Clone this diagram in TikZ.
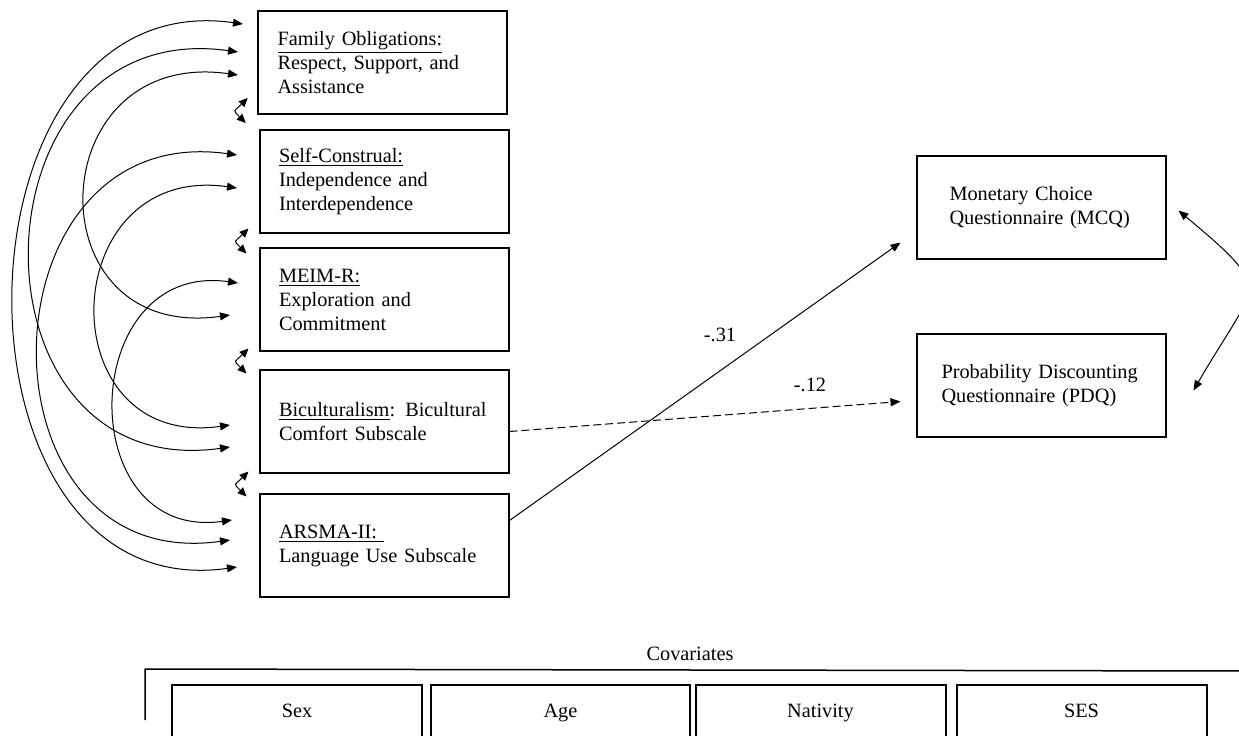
\documentclass[tikz,border=0pt]{standalone}
\usepackage{fontspec}
\setmainfont{Liberation Serif}
\usetikzlibrary{arrows.meta}
\usetikzlibrary{calc}

\begin{document}
\begin{tikzpicture}[x=0.5pt,y=0.5pt]
  \tikzset{measure/.style = {shape=rectangle,draw,line width=1pt,minimum width=124.5pt,minimum height=51.5pt,text width=105pt,inner xsep=9.75pt,align=left,font=\fontsize{10.15}{12}\selectfont}}
  \tikzset{covar/.style = {shape=rectangle,draw,line width=1pt,anchor=north,minimum width=125pt,inner ysep=0pt,text height=16pt,text depth=30pt,font=\fontsize{10.15}{12}\selectfont}}
  \tikzset{corr/.style = {<->,>={Triangle[length=5pt,width=4pt]},line width=0.5pt}}
  \tikzset{twist/.style = {<->,>={Triangle[length=4.5pt,width=4pt]},line width=0.5pt}}
  \tikzset{effect/.style = {->,>={Triangle[length=5pt,width=4pt]},line width=0.5pt}}
  \tikzset{weight/.style = {font=\fontsize{10.15}{12}\selectfont}}

  \useasboundingbox (0,0) rectangle (1239,-735);
  \clip (0,0) rectangle (1239,-735);

	\node[measure] (FO) at (382.5,-62.5) {\underline{Family Obligations:}\\Respect, Support, and\\Assistance};
	\node[measure] (SC) at (384,-181.5) {\underline{Self-Construal:}\\Independence and\\Interdependence};
	\node[measure] (MEIM) at (384,-299.5) {\underline{MEIM-R:}\\Exploration and\\Commitment};
	\node[measure] (BIC) at (384,-421.5) {\underline{Biculturalism}: Bicultural\\Comfort Subscale};
	\node[measure] (ARSMA) at (384,-545.5) {\underline{ARSMA-II:\ }\\Language Use Subscale};

	\node[measure,text width=91.5pt,inner xsep=16.5pt] (MCQ) at (1041,-207.5) {Monetary Choice\\Questionnaire (MCQ)};
	\node[measure,text width=99.5pt,inner xsep=12.5pt] (PDQ) at (1041,-385.5) {Probability Discounting\\Questionnaire (PDQ)};

	\coordinate (fo1) at (243,-24);
	\coordinate (fo2) at (238,-52);
	\coordinate (fo3) at (238,-75);
	\coordinate (sc1) at (237,-155);
	\coordinate (sc2) at (237,-188);
	\coordinate (me1) at (238,-283);
	\coordinate (me2) at (230,-315);
	\coordinate (bi1) at (230,-425);
	\coordinate (bi2) at (230,-447);
	\coordinate (ar1) at (232,-520);
	\coordinate (ar2) at (230,-540);
	\coordinate (ar3) at (237,-567);

	\foreach \from/\to/\l in {fo1/ar3/1.43, fo2/bi2/1.77, fo3/me2/2.13, sc1/ar2/1.74, sc2/bi1/1.99, me1/ar1/1.75}
	\draw[corr] (\from) to[out=172,in=188,looseness=\l] (\to);

	\foreach \up/\dn/\s in {FO/SC/12, SC/MEIM/0, MEIM/BIC/0, BIC/ARSMA/0}
	\draw[twist] ($(\up.south west)!0.5!(\dn.north west)+(-10,12+\s)$) to[out=225,in=135,looseness=2] ($(\up.south west)!0.5!(\dn.north west)+(-12,-13+\s)$);

	\draw[effect] ($(ARSMA.east)+(0,25)$) -- ($(MCQ.west)+(-15,-35)$);
	\draw[effect,dash pattern=on 4pt off 2pt] ($(BIC.east)+(0,-10)$) -- ($(PDQ.west)+(-15,-16)$);
	\node[weight] (w31) at (720,-335) {-.31};
	\node[weight] (w12) at (810,-385) {-.12};

	\draw[corr] ($(MCQ.east)+(12,-3)$) to[out=-40,in=60,looseness=1.8] ($(PDQ.east)+(27,-5)$);

	\node[weight] (cov) at (690,-654) {Covariates};
	\draw[line width=0.75pt] (145,-720) -- (145,-669) -- (1245,-671);

	\node[covar] (sex) at (297,-684) {Sex};
	\node[covar,minimum width=129.5pt] (age) at (560.5,-684) {Age};
	\node[covar] (nat) at (820.5,-684) {Nativity};
	\node[covar] (ses) at (1081.5,-684) {SES};
\end{tikzpicture}
\end{document}
